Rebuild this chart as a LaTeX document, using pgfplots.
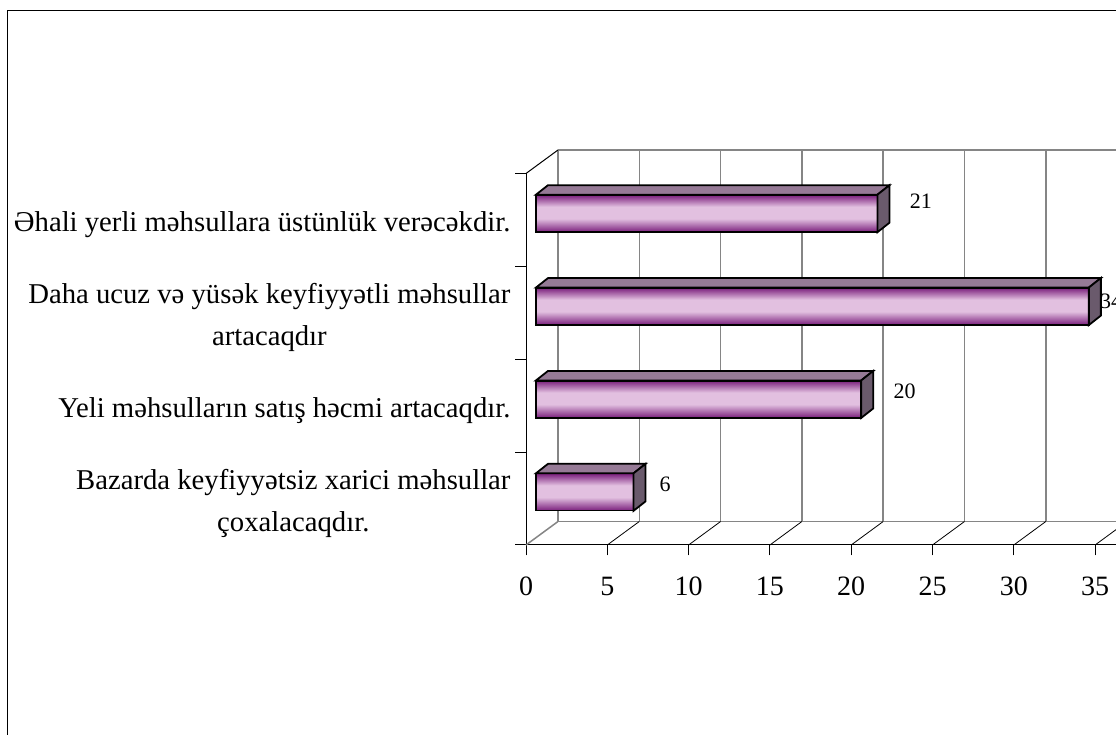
\documentclass[border=0pt]{standalone}
\usepackage{fontspec}
\setmainfont{Liberation Serif}
\usepackage{pgfplots}
\pgfplotsset{compat=1.18}

\definecolor{bardark}{HTML}{7A1F7C}
\definecolor{barlight}{HTML}{E2C0E0}
\definecolor{bartop}{HTML}{967A96}
\definecolor{barside}{HTML}{6A5A6C}
\definecolor{wall}{HTML}{858585}

% a path fills the middle 50bp of the 100bp shading
\pgfdeclareverticalshading{barshade}{100bp}{
  color(0bp)=(bardark);
  color(25bp)=(bardark);
  color(43bp)=(barlight);
  color(59bp)=(barlight);
  color(75bp)=(bardark);
  color(100bp)=(bardark)
}

% one bar: front face, top and side, offset into the depth of the floor
\newcommand{\onebar}[2]{
  \addplot[xbar,bar width=37pt,bar shift=0pt,draw=black,line width=1.8pt,
    shading=barshade,xshift=10pt,yshift=6.5pt]
    coordinates {(#1,#2)};
  \pgfmathsetmacro{\ytop}{#2+0.202}
  \pgfmathsetmacro{\ybot}{#2-0.202}
  \pgfmathsetmacro{\yback}{#2+0.202+0.102}
  \pgfmathsetmacro{\ybackb}{#2-0.202+0.102}
  \pgfmathsetmacro{\xback}{#1+0.738}
  \addplot[draw=black,line width=1.8pt,fill=bartop,xshift=10pt,yshift=6.5pt]
    coordinates {(0,\ytop) (0.738,\yback) (\xback,\yback) (#1,\ytop)} --cycle;
  \addplot[draw=black,line width=1.8pt,fill=barside,xshift=10pt,yshift=6.5pt]
    coordinates {(#1,\ytop) (\xback,\yback) (\xback,\ybackb) (#1,\ybot)} --cycle;
}

\begin{document}
\begin{tikzpicture}[x=1pt,y=1pt]
\path[use as bounding box] (0,0) rectangle (1116,735);
\draw[black,line width=1pt] (7,-5) -- (7,724) -- (1125,724);
\begin{axis}[
  at={(526pt,190pt)},
  anchor=south west,
  scale only axis,
  width=590pt,
  height=371.5pt,
  xmin=0, xmax=36.285,
  ymin=0, ymax=4,
  clip=false,
  axis x line=bottom,
  axis y line=left,
  axis line style={-,black,line width=1pt},
  xtick={0,5,...,35},
  minor xtick={0,5,...,35},
  ytick={0.5,1.5,2.5,3.5},
  minor ytick={0,1,2,3,4},
  yticklabels={
    {Bazarda keyfiyyətsiz xarici məhsullar\\çoxalacaqdır.},
    {Yeli məhsulların satış həcmi artacaqdır.},
    {Daha ucuz və yüsək keyfiyyətli məhsullar\\artacaqdır},
    {Əhali yerli məhsullara üstünlük verəcəkdir.}
  },
  tick align=outside,
  tick style={black,line width=1pt},
  major tick length=0pt,
  minor tick length=10.5pt,
  /pgf/number format/assume math mode=true,
  tick label style={font=\fontsize{28}{32}\selectfont},
  xticklabel style={yshift=-28pt,text height=19pt},
  yticklabel style={
    font=\fontsize{28.7}{42}\selectfont,
    align=center,
    anchor=east,
    xshift=-12pt,
    yshift=-5pt
  },
]
% back wall and floor
\pgfplotsinvokeforeach{0,5,...,35}{
  \addplot[wall,line width=1.5pt,xshift=32pt,yshift=23.5pt,forget plot]
    coordinates {(#1,0) (#1,4)};
}
\addplot[wall,line width=1.5pt,xshift=32pt,yshift=23.5pt]
  coordinates {(0,4) (36,4)};
\addplot[wall,line width=1.5pt,xshift=32pt,yshift=23.5pt]
  coordinates {(0,0) (36,0)};
\addplot[wall,line width=1.5pt] coordinates {(0,0) (1.968,0.253)};
\addplot[black,line width=1pt] coordinates {(0,4) (1.968,4.253)};
\pgfplotsinvokeforeach{5,10,...,35}{
  \pgfmathsetmacro{\xend}{#1+1.968}
  \addplot[black,line width=0.8pt] coordinates {(#1,0) (\xend,0.253)};
}
% bars
\onebar{6}{0.5}
\onebar{20}{1.5}
\onebar{34}{2.5}
\onebar{21}{3.5}
% value labels
\node[anchor=west,inner sep=0pt,font=\fontsize{22}{24}\selectfont] at (axis cs:8.2,0.65) {6};
\node[anchor=west,inner sep=0pt,font=\fontsize{22}{24}\selectfont] at (axis cs:22.6,1.66) {20};
\node[anchor=west,inner sep=0pt,font=\fontsize{22}{24}\selectfont] at (axis cs:35.3,2.62) {34};
\node[anchor=west,inner sep=0pt,font=\fontsize{22}{24}\selectfont] at (axis cs:23.6,3.7) {21};
\end{axis}
\end{tikzpicture}
\end{document}
